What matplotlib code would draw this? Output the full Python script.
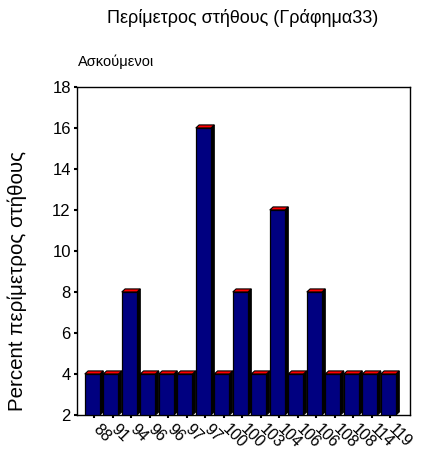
import matplotlib
matplotlib.use("Agg")
import matplotlib.pyplot as plt
from matplotlib.patches import Rectangle, Polygon
from matplotlib.transforms import offset_copy

plt.rcParams['font.family'] = ['Liberation Sans', 'DejaVu Sans']

# Chest perimeter categories and their percentages
categories = ["88", "91", "94", "96", "96", "97", "97", "100", "100", "103",
              "104", "106", "106", "108", "108", "114", "119"]
percent = [4, 4, 8, 4, 4, 4, 16, 4, 8, 4, 12, 4, 8, 4, 4, 4, 4]

title = "Περίμετρος στήθους (Γράφημα33)"
subtitle = "Ασκούμενοι"
ylabel = "Percent περίμετρος στήθους"
yticks = [2, 4, 6, 8, 10, 12, 14, 16, 18]

W, H, DPI = 422, 454, 100
fig = plt.figure(figsize=(W / DPI, H / DPI), dpi=DPI)
fig.patch.set_facecolor("white")

# axes box in pixels: left 77, right 410, top 87, bottom 415
L, R, T, B = 77, 410, 87, 415
ax = fig.add_axes([L / W, 1 - B / H, (R - L) / W, (B - T) / H])

base = yticks[0]
ax.set_ylim(base, yticks[-1])
ax.set_xlim(-0.92, len(categories) - 1 + 1.08)

# 3-D bar look: navy front face, black side, red top
dx = 0.18   # depth in category units
dy = 0.15   # depth in value units
face_w = 1.0 - dx
for i, v in enumerate(percent):
    x0 = i - 0.5
    x1 = x0 + face_w
    ax.add_patch(Polygon([(x1, base), (x1 + dx, base + dy), (x1 + dx, v + dy), (x1, v)],
                         closed=True, facecolor="black", edgecolor="black", lw=0.8, zorder=2))
    ax.add_patch(Polygon([(x0, v), (x0 + dx, v + dy), (x1 + dx, v + dy), (x1, v)],
                         closed=True, facecolor="#ff0000", edgecolor="black", lw=0.8, zorder=2))
    ax.add_patch(Rectangle((x0, base), face_w, v - base, facecolor="#000080",
                           edgecolor="black", lw=0.9, zorder=3))

ax.set_yticks(yticks)
ax.set_yticklabels([str(t) for t in yticks], fontsize=12)
ax.set_xticks(range(len(categories)))
ax.set_xticklabels(categories, fontsize=11.5, rotation=-45, ha="left", va="center",
                   rotation_mode="anchor")
ax.tick_params(axis="both", direction="out", length=2.5, width=1.5, color="black", pad=2)
ax.tick_params(axis="x", pad=6)
for lab in ax.get_xticklabels():
    lab.set_transform(offset_copy(lab.get_transform(), fig=fig, x=1, y=0, units="dots"))

for s in ax.spines.values():
    s.set_color("black")
    s.set_linewidth(1.0)

# rotated label: its anchor is the right-hand edge of the text
ax.set_ylabel(ylabel, fontsize=14.8)
ax.yaxis.set_label_coords(-(L - 27) / (R - L), (B - 281) / (B - T))

fig.text(243 / W, 1 - 18 / H, title, fontsize=13, ha="center", va="center")
fig.text(78 / W, 1 - 62 / H, subtitle, fontsize=10.5, ha="left", va="center")

fig.savefig("out.png", dpi=DPI)
